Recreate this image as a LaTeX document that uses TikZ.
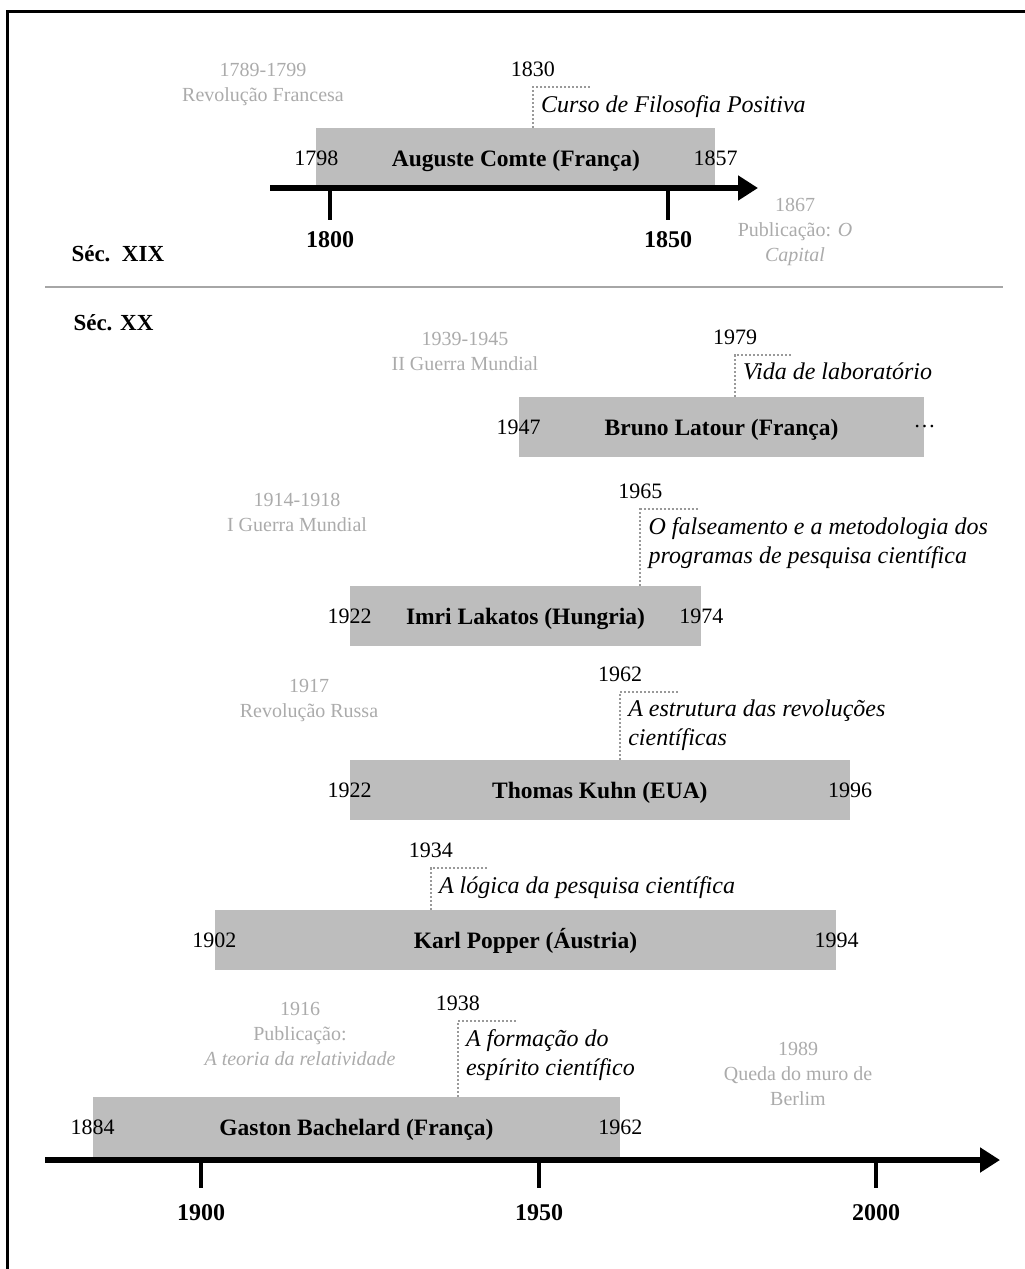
\documentclass[tikz,border=0pt]{standalone}
\usepackage{fontspec}
\setmainfont{Liberation Serif}
\usetikzlibrary{arrows.meta,positioning}

\begin{document}
\begin{tikzpicture}[x=1pt,y=-1pt,
    life/.style={fill=black!26,minimum height=60,inner sep=0,text height=16,text depth=0,font=\fontsize{23.5}{27}\selectfont\bfseries},
    year/.style={font=\fontsize{22}{26}\selectfont,inner sep=1},
    work/.style={font=\fontsize{24}{29}\selectfont\itshape,align=left,inner sep=2},
    pub/.style={black!40,dotted,line width=2},
    event/.style={black!33,font=\fontsize{20}{25}\selectfont,align=center},
    sec/.style={font=\fontsize{23}{27}\selectfont\bfseries,anchor=west},
    axis/.style={line width=6,-{Triangle[length=20pt,width=24pt]}},
    tick/.style={line width=4},
    axislabel/.style={font=\fontsize{24}{28}\selectfont\bfseries}]
  \useasboundingbox (0,0) rectangle (1025,1269);
  \draw[line width=3] (7,1269) |- (1025,11);

  \foreach[evaluate={\org+(\born-1900)*6.76} as \xl,
           evaluate={\org+(\died-1900)*6.76} as \xr,
           evaluate={\org+(\pub-1900)*6.76} as \xp]
    \id/\org/\who/\born/\died/\last/\ytop/\pub/\corner/\work in {
      comte/1006/Auguste Comte (França)/1798/1857/1857/128/1830/87/Curso de Filosofia Positiva,
      latour/201/Bruno Latour (França)/1947/2007/\dots/397/1979/355/Vida de laboratório,
      lakatos/201/Imri Lakatos (Hungria)/1922/1974/1974/586/1965/509/O falseamento e a metodologia dos\\programas de pesquisa científica,
      kuhn/201/Thomas Kuhn (EUA)/1922/1996/1996/760/1962/692/A estrutura das revoluções\\científicas,
      popper/201/Karl Popper (Áustria)/1902/1994/1994/910/1934/868/A lógica da pesquisa científica,
      bachelard/201/Gaston Bachelard (França)/1884/1962/1962/1097/1938/1021/A formação do\\espírito científico} {
    \node[life,minimum width=\xr-\xl] (\id) at ({(\xl+\xr)/2},{\ytop+30}) {\who};
    \node[year] (\id born) at (\id.west) {\born};
    \node[year] (\id died) at (\id.east) {\last};
    \coordinate (\id pub) at (\xp,\corner);
    \coordinate (\id end) at ({\xp+58},\corner);
    \draw[pub] (\id pub |- \id.north) -- (\id pub) -- (\id end);
    \node[year] (\id pubyear) at ([yshift=18]\id pub) {\pub};
    \node[work,anchor=north west] (\id work) at ([xshift=6,yshift=-6]\id pub) {\work};
  }

  \node[event] (revfr) at (263,84) {1789-1799\\Revolução Francesa};
  \node[event] (capital) at (795,232) {1867\\Publicação: \textit{O}\\\textit{Capital}};
  \node[event] (ww2) at (465,351) {1939-1945\\II Guerra Mundial};
  \node[event] (ww1) at (297,512) {1914-1918\\I Guerra Mundial};
  \node[event] (revru) at (309,700) {1917\\Revolução Russa};
  \node[event] (relat) at (300,1034) {1916\\Publicação:\\\textit{A teoria da relatividade}};
  \node[event] (berlim) at (798,1074) {1989\\Queda do muro de\\Berlim};

  \node[sec] (xix) at (68,254) {Séc.\ \ XIX};
  \draw[black!35,line width=1.5] (45,287) -- (1003,287);
  \node[sec] (xx) at (70,323) {Séc. XX};

  \draw[axis] (270,188) -- (758,188);
  \foreach \yr/\x in {1800/330,1850/668} {
    \draw[tick] (\x,188) -- (\x,220);
    \node[axislabel] (y\yr) at (\x,240) {\yr};
  }
  \draw[axis] (45,1160) -- (1000,1160);
  \foreach \yr/\x in {1900/201,1950/539,2000/876} {
    \draw[tick] (\x,1160) -- (\x,1188);
    \node[axislabel] (y\yr) at (\x,1213) {\yr};
  }
\end{tikzpicture}
\end{document}
